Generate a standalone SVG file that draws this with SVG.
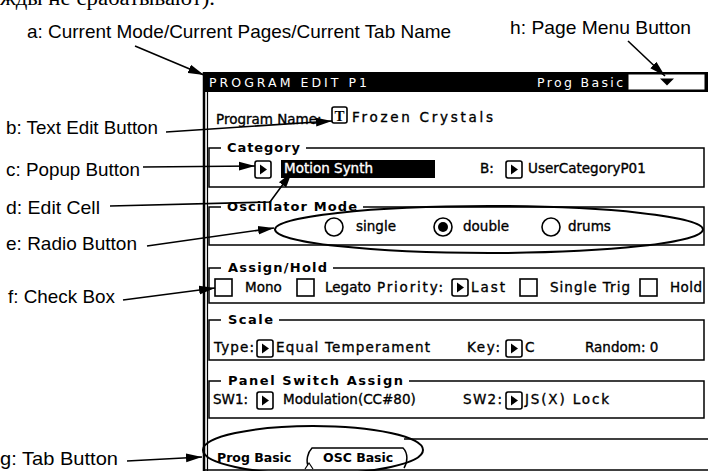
<svg xmlns="http://www.w3.org/2000/svg" xmlns:xlink="http://www.w3.org/1999/xlink" width="708" height="471" viewBox="0 0 708 471">
  <style>
    .lbl { font-family: "Liberation Sans", Arial, sans-serif; font-size: 19px; fill: #000; }
    .cut { font-family: "Liberation Serif", "Times New Roman", serif; font-size: 20px; fill: #000; }
    .ui { font-family: "DejaVu Sans", Verdana, sans-serif; font-size: 13.5px; fill: #000; stroke: #000; stroke-width: 0.35; }
    .hd { font-family: "DejaVu Sans", Verdana, sans-serif; font-size: 12.5px; fill: #fff; }
    .ttl { font-family: "DejaVu Sans", Verdana, sans-serif; font-size: 13px; font-weight: bold; fill: #000; }
    .tab { font-family: "DejaVu Sans", Verdana, sans-serif; font-size: 12.5px; font-weight: bold; fill: #000; }
    .inv { fill: #fff; stroke: #fff; }
    .grp { fill: none; stroke: #000; stroke-width: 1.5; }
    .edge { fill: none; stroke: #000; stroke-width: 1.5; }
    .lead { fill: none; stroke: #000; stroke-width: 1.6; marker-end: url(#ah); }
    .ring { fill: none; stroke: #000; stroke-width: 2; }
  </style>
  <defs>
    <marker id="ah" markerUnits="userSpaceOnUse" markerWidth="17" markerHeight="10" refX="16" refY="5" orient="auto">
      <path d="M0 0.6 L16 5 L0 9.4 Z" fill="#000"/>
    </marker>
    <g id="popup">
      <rect x="0" y="0" width="16" height="17" rx="2" fill="#fff" stroke="#000" stroke-width="1.6"/>
      <path d="M5 3.5 L12 8.5 L5 13.5 Z" fill="#000"/>
    </g>
    <rect id="chk" x="0" y="0" width="17" height="17" fill="#fff" stroke="#000" stroke-width="1.6"/>
  </defs>

  <rect width="708" height="471" fill="#fff"/>

  <!-- running text line cut by the top edge -->
  <text class="cut" x="0" y="5" textLength="215" lengthAdjust="spacingAndGlyphs">жды не срабатывают).</text>

  <!-- screen frame -->
  <g id="screen-frame">
    <line x1="204" y1="72" x2="204" y2="471" stroke="#000" stroke-width="2.5"/>
    <line x1="207.5" y1="92" x2="207.5" y2="471" stroke="#000" stroke-width="1.2"/>
    <line x1="205" y1="470" x2="708" y2="470" stroke="#000" stroke-width="1.5"/>
  </g>

  <!-- header bar -->
  <g id="header">
    <rect x="204" y="72" width="504" height="20" fill="#000"/>
    <text class="hd" x="209" y="87" textLength="158">PROGRAM EDIT P1</text>
    <text class="hd" x="537" y="87" textLength="86">Prog Basic</text>
  </g>
  <g id="page-menu-button">
    <rect x="628" y="74" width="77" height="16" fill="#fff" stroke="#000" stroke-width="1"/>
    <path d="M660 78.5 L674 78.5 L667 85.5 Z" fill="#000"/>
  </g>

  <!-- program name -->
  <g id="program-name">
    <text class="ui" x="216" y="124" font-size="12.5">Program Name:</text>
    <rect x="332" y="107" width="15" height="16" rx="2" fill="#fff" stroke="#000" stroke-width="1.6"/>
    <text x="339.5" y="121" text-anchor="middle" font-family="Liberation Serif, serif" font-weight="bold" font-size="15">T</text>
    <text class="ui" x="352" y="122" font-size="14" textLength="141">Frozen Crystals</text>
  </g>

  <!-- category -->
  <g id="category">
    <path class="grp" d="M306 148 H704 V187 H209 V148 H221"/>
    <text class="ttl" x="227" y="152" textLength="73">Category</text>
    <use xlink:href="#popup" x="255" y="161"/>
    <rect x="281" y="160" width="154" height="18" fill="#000"/>
    <text class="ui inv" x="284" y="173" font-size="12">Motion Synth</text>
    <text class="ui" x="480" y="173">B:</text>
    <use xlink:href="#popup" x="506" y="161"/>
    <text class="ui" x="528" y="173">UserCategoryP01</text>
  </g>

  <!-- oscillator mode -->
  <g id="oscillator-mode">
    <path class="grp" d="M363 207 H704 V245 H209 V207 H221"/>
    <text class="ttl" x="227" y="211" textLength="130">Oscillator Mode</text>
    <circle cx="334" cy="227" r="9" fill="#fff" stroke="#000" stroke-width="1.6"/>
    <text class="ui" x="356" y="231" font-size="13">single</text>
    <circle cx="443" cy="227" r="9" fill="#fff" stroke="#000" stroke-width="1.6"/>
    <circle cx="443" cy="227" r="5" fill="#000"/>
    <text class="ui" x="463" y="231" font-size="13">double</text>
    <circle cx="551" cy="227" r="9" fill="#fff" stroke="#000" stroke-width="1.6"/>
    <text class="ui" x="568" y="231" font-size="13">drums</text>
  </g>

  <!-- assign / hold -->
  <g id="assign-hold">
    <path class="grp" d="M333 268 H704 V303 H209 V268 H221"/>
    <text class="ttl" x="228" y="272" textLength="99">Assign/Hold</text>
    <use xlink:href="#chk" x="215" y="279"/>
    <text class="ui" x="245" y="292">Mono</text>
    <use xlink:href="#chk" x="297" y="279"/>
    <text class="ui" x="325" y="292">Legato</text>
    <text class="ui" x="377" y="292" textLength="66">Priority:</text>
    <use xlink:href="#popup" x="452" y="279"/>
    <text class="ui" x="471" y="292" textLength="34">Last</text>
    <use xlink:href="#chk" x="520" y="279"/>
    <text class="ui" x="550" y="292" textLength="80">Single Trig</text>
    <use xlink:href="#chk" x="640" y="279"/>
    <text class="ui" x="670" y="292" textLength="32">Hold</text>
  </g>

  <!-- scale -->
  <g id="scale">
    <path class="grp" d="M279 320 H704 V360 H209 V320 H221"/>
    <text class="ttl" x="228" y="324" textLength="45">Scale</text>
    <text class="ui" x="214" y="352" textLength="40">Type:</text>
    <use xlink:href="#popup" x="257" y="340"/>
    <text class="ui" x="276" y="352" textLength="154">Equal Temperament</text>
    <text class="ui" x="467" y="352" textLength="33">Key:</text>
    <use xlink:href="#popup" x="506" y="340"/>
    <text class="ui" x="525" y="352">C</text>
    <text class="ui" x="585" y="352">Random: 0</text>
  </g>

  <!-- panel switch assign -->
  <g id="panel-switch-assign">
    <path class="grp" d="M409 381 H704 V418 H209 V381 H221"/>
    <text class="ttl" x="228" y="385" textLength="175">Panel Switch Assign</text>
    <text class="ui" x="213" y="404" textLength="35">SW1:</text>
    <use xlink:href="#popup" x="257" y="392"/>
    <text class="ui" x="283" y="404">Modulation(CC#80)</text>
    <text class="ui" x="463" y="404" textLength="39">SW2:</text>
    <use xlink:href="#popup" x="506" y="392"/>
    <text class="ui" x="525" y="404" textLength="84">JS(X) Lock</text>
  </g>

  <!-- tabs -->
  <g id="tab-prog-basic">
    <text class="tab" x="217" y="462">Prog Basic</text>
  </g>
  <g id="tab-osc-basic">
    <path class="edge" d="M309 468 C305 461 308 452 312 448 H403 C408 453 408 462 404 468"/>
    <path d="M305 469 L309 463 L313 469" fill="#fff" stroke="#000" stroke-width="1.2"/>
    <text class="tab" x="323" y="462">OSC Basic</text>
  </g>
  <line x1="404" y1="439" x2="708" y2="439" stroke="#000" stroke-width="1.5"/>

  <!-- callout labels -->
  <g id="label-a"><text class="lbl" x="27" y="38" textLength="424" lengthAdjust="spacingAndGlyphs">a: Current Mode/Current Pages/Current Tab Name</text></g>
  <g id="label-h"><text class="lbl" x="510" y="34" textLength="181" lengthAdjust="spacingAndGlyphs">h: Page Menu Button</text></g>
  <g id="label-b"><text class="lbl" x="6" y="134" textLength="152" lengthAdjust="spacingAndGlyphs">b: Text Edit Button</text></g>
  <g id="label-c"><text class="lbl" x="6" y="176" textLength="134" lengthAdjust="spacingAndGlyphs">c: Popup Button</text></g>
  <g id="label-d"><text class="lbl" x="6" y="214" textLength="94" lengthAdjust="spacingAndGlyphs">d: Edit Cell</text></g>
  <g id="label-e"><text class="lbl" x="6" y="250" textLength="131" lengthAdjust="spacingAndGlyphs">e: Radio Button</text></g>
  <g id="label-f"><text class="lbl" x="8" y="303" textLength="107" lengthAdjust="spacingAndGlyphs">f: Check Box</text></g>
  <g id="label-g"><text class="lbl" x="0" y="465" textLength="118" lengthAdjust="spacingAndGlyphs">g: Tab Button</text></g>

  <!-- connectors -->
  <g id="connectors">
    <line class="lead" x1="135" y1="46" x2="204" y2="75"/>
    <line class="lead" x1="628" y1="41" x2="665" y2="76"/>
    <line class="lead" x1="166" y1="132" x2="332" y2="121"/>
    <line class="lead" x1="143" y1="167" x2="255" y2="166"/>
    <polyline class="lead" points="110,206 270,202 292,172"/>
    <line class="lead" x1="147" y1="246" x2="274" y2="228"/>
    <line class="lead" x1="123" y1="300" x2="215" y2="288"/>
    <line class="lead" x1="127" y1="461" x2="202" y2="457"/>
    <ellipse class="ring" cx="489" cy="229.5" rx="214" ry="23.5"/>
    <ellipse class="ring" cx="313" cy="450" rx="110" ry="24"/>
  </g>
</svg>
